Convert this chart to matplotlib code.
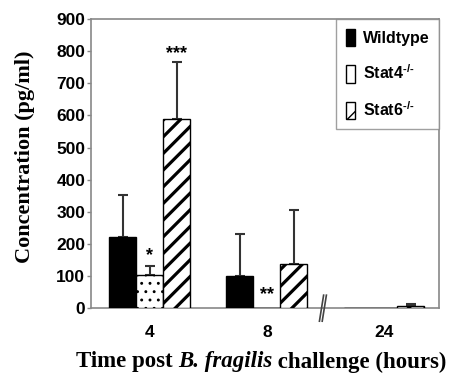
import matplotlib
matplotlib.use("Agg")
import matplotlib.pyplot as plt
from matplotlib.patches import Patch
from matplotlib.lines import Line2D
import numpy as np

plt.rcParams['mathtext.fontset'] = 'custom'
plt.rcParams['mathtext.rm'] = 'Liberation Sans:bold'
plt.rcParams['mathtext.bf'] = 'Liberation Sans:bold'
plt.rcParams['mathtext.it'] = 'Liberation Sans:bold'

time_labels = ["4", "8", "24"]
series_names = ["Wildtype", r"Stat4$^{\text{-/-}}$", r"Stat6$^{\text{-/-}}$"]
wildtype = [222, 100, 0]
wildtype_err = [130, 130, 0]
stat4 = [102, 2, 1]
stat4_err = [29, 0, 0]
stat6 = [589, 136, 8]
stat6_err = [176, 171, 6]
stars = {(1, 0): ("*", 165), (2, 0): ("***", 792), (1, 1): ("**", 42)}

fig = plt.figure(figsize=(4.52, 3.74), dpi=100)
ax = fig.add_axes([0.201, 0.176, 0.770, 0.773])

x = np.arange(len(time_labels))
w = 0.23
vals = [wildtype, stat4, stat6]
errs = [wildtype_err, stat4_err, stat6_err]
styles = [dict(facecolor="black", hatch=None),
          dict(facecolor="white", hatch=".."),
          dict(facecolor="white", hatch="//")]
hlw = [1.0, 0.9, 2.3]
for i, (v, e, st) in enumerate(zip(vals, errs, styles)):
    pos = x + (i - 1) * w
    with plt.rc_context({'hatch.linewidth': hlw[i]}):
        bars = ax.bar(pos, v, width=w, edgecolor="black", linewidth=1.0,
                      zorder=3, **st)
    for b in bars:
        if hasattr(b, "set_hatch_linewidth"):
            b.set_hatch_linewidth(hlw[i])
    for p, vv, ee in zip(pos, v, e):
        if ee > 0:
            ax.errorbar(p, vv, yerr=[[0], [ee]], fmt="none", ecolor="#333333",
                        elinewidth=1.5, capsize=3.5, capthick=1.5, zorder=2)

for (i, g), (s, yv) in stars.items():
    ax.text(x[g] + (i - 1) * w, yv, s, ha="center", va="center",
            fontsize=13, fontweight="bold", family="Liberation Sans")

ax.set_xlim(-0.504, 2.47)
ax.set_ylim(0, 900)
ax.set_yticks(np.arange(0, 901, 100))
ax.set_xticks(x)
ax.set_xticklabels(time_labels)
for sp in ax.spines.values():
    sp.set_color("#888888")
    sp.set_linewidth(1.2)
ax.tick_params(axis="y", length=3, width=1, color="#888888", pad=1,
               labelsize=12.5)
ax.tick_params(axis="x", length=0, pad=12, labelsize=12.5)
for lab in ax.get_xticklabels() + ax.get_yticklabels():
    lab.set_fontweight("bold")
    lab.set_family("Liberation Sans")

# axis break
bx = (1.479 + 0.504) / (2.47 + 0.504)
for dx in (-0.004, 0.004):
    ax.add_line(Line2D([bx + dx - 0.006, bx + dx + 0.006], [-0.045, 0.045],
                       transform=ax.transAxes, color="#444444", lw=1.2,
                       clip_on=False, zorder=5))

fig.text(25 / 452, 1 - 157 / 374, "Concentration (pg/ml)", rotation=90,
         ha="center", va="center", family="Liberation Serif",
         fontweight="bold", fontsize=16)

# x label composed of normal and italic parts
parts = [("Time post ", "normal"), ("B. fragilis", "italic"),
         (" challenge (hours)", "normal")]
renderer = fig.canvas.get_renderer()
texts = []
for s, style in parts:
    t = fig.text(0, 1 - 362 / 374, s, ha="left", va="center",
                 family="Liberation Serif", fontweight="bold",
                 fontstyle=style, fontsize=16.5)
    texts.append(t)
widths = [t.get_window_extent(renderer).width for t in texts]
total = sum(widths)
start = 261 - total / 2
for t, wd in zip(texts, widths):
    t.set_x(start / 452)
    start += wd

handles = [Patch(facecolor="black", edgecolor="black"),
           Patch(facecolor="white", edgecolor="black"),
           None]
with plt.rc_context({'hatch.linewidth': 1.5}):
    handles[2] = Patch(facecolor="white", edgecolor="black", hatch="/")
leg = ax.legend(handles, series_names, loc="upper right", frameon=True,
                fancybox=False, handlelength=0.55, handleheight=1.3,
                handletextpad=0.5, borderpad=0.6, labelspacing=1.1,
                borderaxespad=0.0,
                prop={"family": "Liberation Sans", "weight": "bold", "size": 11.5})
leg.get_frame().set_edgecolor("#888888")
leg.get_frame().set_linewidth(1.0)

fig.savefig("out.png", dpi=100)
